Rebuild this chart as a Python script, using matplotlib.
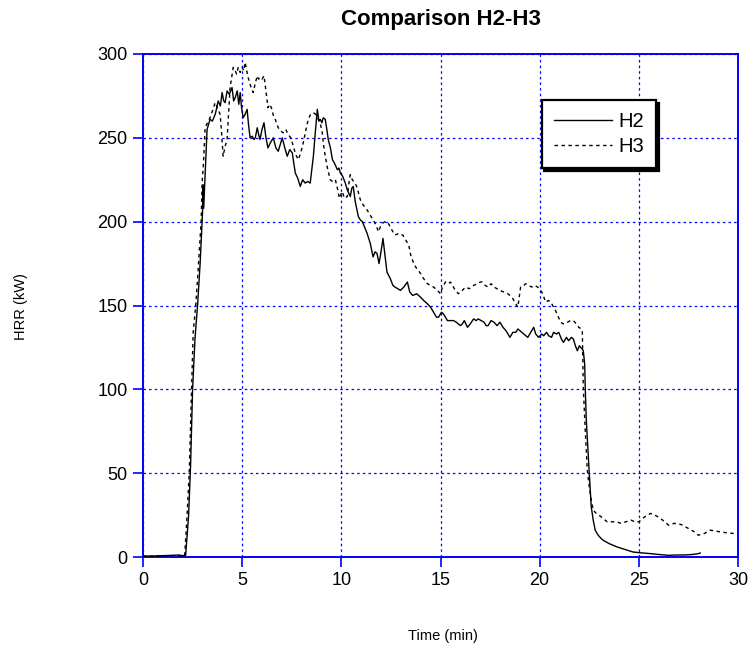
import matplotlib
matplotlib.use("Agg")
import matplotlib.pyplot as plt

plt.rcParams['font.family'] = ['Liberation Sans', 'DejaVu Sans']

# ---- data (time in min, HRR in kW) ----
h2_t = [0.0, 0.5, 1.0, 1.5, 1.8, 2.0, 2.15, 2.3, 2.4, 2.5, 2.62, 2.75, 2.88, 3.0, 3.03, 3.06,
        3.13, 3.23, 3.38, 3.5, 3.64, 3.72, 3.79, 3.9, 3.99, 4.07, 4.14, 4.24, 4.35, 4.49, 4.57,
        4.65, 4.75, 4.83, 4.9, 4.97, 5.05, 5.15, 5.25, 5.32, 5.4, 5.5, 5.6, 5.66, 5.76, 5.83,
        5.9, 6.0, 6.1, 6.2, 6.3, 6.42, 6.57, 6.7, 6.82, 6.92, 7.02, 7.15, 7.27, 7.4, 7.53,
        7.6, 7.68, 7.8, 7.93, 8.05, 8.18, 8.3, 8.43, 8.59, 8.7, 8.79, 8.87, 8.94, 9.02, 9.09,
        9.19, 9.27, 9.34, 9.45, 9.55, 9.65, 9.8, 9.88, 9.95, 10.07, 10.2, 10.3, 10.45, 10.53,
        10.6, 10.7, 10.86, 10.96, 11.06, 11.2, 11.3, 11.46, 11.6, 11.7, 11.8, 11.9, 12.0, 12.1,
        12.2, 12.3, 12.47, 12.6, 12.7, 12.85, 12.98, 13.15, 13.33, 13.45, 13.6, 13.8, 13.99,
        14.15, 14.34, 14.5, 14.65, 14.8, 14.9, 15.05, 15.15, 15.35, 15.5, 15.66, 15.8, 16.0,
        16.1, 16.2, 16.36, 16.5, 16.67, 16.8, 16.9, 17.05, 17.2, 17.3, 17.4, 17.55, 17.7,
        17.85, 18.0, 18.15, 18.3, 18.4, 18.5, 18.65, 18.8, 18.9, 19.0, 19.2, 19.4, 19.55,
        19.7, 19.8, 19.95, 20.1, 20.2, 20.35, 20.45, 20.6, 20.7, 20.85, 20.96, 21.1, 21.2,
        21.35, 21.46, 21.6, 21.7, 21.8, 21.9, 22.0, 22.07, 22.15, 22.2, 22.27, 22.3, 22.35,
        22.45, 22.5, 22.6, 22.7, 22.8, 22.95, 23.1, 23.2, 23.5, 23.9, 24.3, 24.7, 25.1, 25.6,
        26.0, 26.5, 26.9, 27.3, 27.7, 28.0, 28.1]
h2_v = [0.5, 0.6, 0.8, 1.0, 1.2, 0.8, 1.0, 25, 55, 100, 130, 150, 175, 205, 222, 208,
        228, 255, 261, 260, 264, 268, 272, 269, 277, 272, 271, 278, 276, 280, 272,
        274, 278, 270, 277, 268, 262, 264, 267, 258, 250, 251, 249, 250, 256, 252,
        249, 255, 259, 250, 244, 247, 250, 244, 242, 246, 250, 244, 239, 243, 241,
        235, 229, 226, 221, 225, 223, 224, 223, 239, 255, 267, 260, 261, 259, 262,
        261, 255, 249, 244, 237, 235, 231, 232, 229, 227, 223, 219, 215, 220,
        221, 212, 203, 201, 200, 196, 193, 187, 179, 182, 181, 175, 182, 190,
        180, 170, 166, 162, 161, 160, 159, 161, 164, 158, 156, 157, 155,
        153, 151, 149, 146, 143, 143, 146, 145, 141, 141, 141, 140, 138,
        139, 141, 137, 139, 142, 141, 142, 141, 140, 138, 138, 141, 140,
        138, 140, 137, 135, 133, 131, 134, 134, 136, 135, 133, 131, 134,
        137, 133, 131, 133, 132, 134, 132, 131, 134, 133, 134, 130, 128,
        131, 129, 131, 130, 126, 123, 126, 125, 124, 123, 115, 100, 82,
        60, 50, 30, 22, 16, 13, 11, 10, 8, 6, 4.5, 3, 2.5, 2,
        1.5, 1, 1.2, 1.2, 1.5, 2, 2.4]

h3_t = [0.0, 0.5, 1.0, 1.5, 1.8, 2.1, 2.2, 2.33, 2.45, 2.53, 2.66, 2.8, 2.93, 2.98, 3.05,
        3.13, 3.25, 3.38, 3.5, 3.64, 3.75, 3.89, 3.95, 4.04, 4.14, 4.24, 4.32, 4.39, 4.47,
        4.55, 4.65, 4.72, 4.8, 4.9, 5.0, 5.08, 5.15, 5.23, 5.3, 5.45, 5.56, 5.65, 5.76, 5.83,
        5.9, 6.0, 6.1, 6.2, 6.3, 6.4, 6.5, 6.58, 6.67, 6.75, 6.82, 6.95, 7.07, 7.2, 7.32,
        7.45, 7.58, 7.7, 7.83, 7.95, 8.08, 8.2, 8.33, 8.45, 8.59, 8.7, 8.84, 8.95, 9.04, 9.1,
        9.19, 9.3, 9.44, 9.55, 9.7, 9.8, 9.9, 9.97, 10.05, 10.15, 10.3, 10.37, 10.45, 10.55,
        10.7, 10.8, 10.96, 11.1, 11.3, 11.45, 11.6, 11.75, 11.87, 11.97, 12.07, 12.2, 12.3,
        12.37, 12.5, 12.7, 12.9, 13.1, 13.25, 13.4, 13.5, 13.65, 13.8, 14.0, 14.15, 14.34,
        14.5, 14.65, 14.85, 15.0, 15.1, 15.25, 15.4, 15.5, 15.7, 15.9, 16.1, 16.26, 16.45,
        16.67, 16.87, 17.0, 17.1, 17.25, 17.4, 17.55, 17.7, 17.85, 18.0, 18.2, 18.4, 18.6,
        18.75, 18.9, 19.04, 19.2, 19.3, 19.45, 19.6, 19.75, 19.9, 20.0, 20.15, 20.3, 20.45,
        20.56, 20.7, 20.8, 20.95, 21.06, 21.2, 21.4, 21.55, 21.7, 21.85, 21.97, 22.1, 22.15,
        22.2, 22.3, 22.4, 22.5, 22.6, 22.7, 22.85, 23.1, 23.4, 23.6, 23.9, 24.1, 24.35, 24.6,
        24.8, 25.0, 25.3, 25.6, 25.8, 25.96, 26.2, 26.5, 26.75, 26.97, 27.2, 27.5, 27.8,
        28.0, 28.3, 28.6, 28.85, 29.1, 29.4, 29.8, 30.0]
h3_v = [0.5, 0.5, 0.7, 0.8, 0.6, 0.8, 20, 50, 100, 134, 150, 175, 200, 223, 235,
        256, 259, 262, 266, 271, 268, 264, 255, 239, 245, 249, 265, 280, 286,
        292, 290, 288, 292, 289, 292, 290, 295, 290, 286, 280, 277, 282, 287, 285,
        286, 285, 287, 278, 268, 270, 267, 263, 261, 258, 256, 254, 253, 255, 252,
        250, 245, 240, 237, 241, 247, 254, 261, 264, 265, 264, 261, 258, 253, 246,
        239, 232, 225, 224, 225, 220, 214, 216, 218, 214, 215, 222, 228, 225,
        223, 220, 213, 210, 207, 204, 201, 198, 194, 197, 199, 200, 199,
        199, 196, 192, 193, 192, 189, 186, 180, 175, 172, 169, 166, 163,
        162, 161, 159, 157, 161, 164, 163, 164, 160, 157, 159, 161, 160,
        162, 163, 164, 164, 162, 161, 163, 161, 160, 159, 158, 157, 155,
        152, 149, 161, 162, 163, 162, 161, 162, 161, 160, 157, 152, 153,
        152, 149, 147, 143, 140, 139, 140, 141, 141, 139, 137, 136, 135,
        101, 75, 52, 42, 34, 28, 26, 24, 21, 21, 21, 20, 21, 22,
        21, 21, 24, 26, 25, 24, 22, 19, 20, 20, 19, 17, 15,
        13, 14, 16, 15.5, 15, 14.5, 14, 14]

x_ticks = [0, 5, 10, 15, 20, 25, 30]
y_ticks = [0, 50, 100, 150, 200, 250, 300]
series_labels = ["H2", "H3"]

# ---- figure ----
fig = plt.figure(figsize=(7.5, 6.48), dpi=100)
ax = fig.add_axes([143/750, (648-557)/648, 595/750, 503/648])

ax.plot(h2_t, h2_v, color='black', lw=1.0, label=series_labels[0], zorder=3)
ax.plot(h3_t, h3_v, color='black', lw=1.0, linestyle=(0, (2.5, 2.5)),
        label=series_labels[1], zorder=3)

ax.set_xlim(0, 30)
ax.set_ylim(0, 300)
ax.set_xticks(x_ticks)
ax.set_yticks(y_ticks)
ax.tick_params(axis='both', direction='out', length=7, width=1.2, color='blue',
               labelsize=13, pad=4, labelcolor='black')
ax.grid(True, color='blue', linestyle=(0, (2, 2.5)), lw=0.9)
for sp in ax.spines.values():
    sp.set_color('blue')
    sp.set_linewidth(1.4)

leg = ax.legend(loc='upper left', bbox_to_anchor=(0.67, 0.909), borderaxespad=0,
                fontsize=14.5, handlelength=2.9, handletextpad=0.3, labelspacing=0.3,
                borderpad=0.6, fancybox=False, framealpha=1,
                shadow={'color': 'black', 'alpha': 1, 'shade': 0})
leg.get_frame().set_edgecolor('black')
leg.get_frame().set_linewidth(1.6)

fig.text(441/750, 1-20/648, "Comparison H2-H3", ha='center', va='center',
         fontsize=16, fontweight='bold')
fig.text(21/750, 1-307/648, "HRR (kW)", rotation=90, ha='center', va='center',
         fontsize=10.5)
fig.text(443/750, 1-636/648, "Time (min)", ha='center', va='center', fontsize=10.5)

fig.savefig("out.png", dpi=100)
